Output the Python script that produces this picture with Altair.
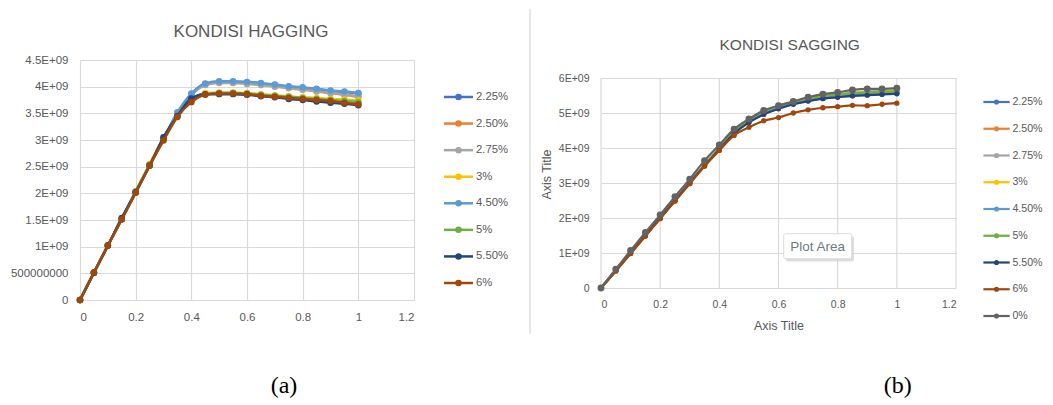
import json
import altair as alt
import pandas as pd

# ---------------- data ----------------
x_vals = [0, 0.05, 0.1, 0.15, 0.2, 0.25, 0.3, 0.35, 0.4, 0.45, 0.5,
          0.55, 0.6, 0.65, 0.7, 0.75, 0.8, 0.85, 0.9, 0.95, 1.0]

# KONDISI HAGGING (values in units of 1E+09)
hag_names = ["2.25%", "2.50%", "2.75%", "3%", "4.50%", "5%", "5.50%", "6%"]
hag_colors = ["#4472C4", "#ED7D31", "#A5A5A5", "#FFC000", "#5B9BD5", "#70AD47", "#264478", "#9E480E"]
h_225 = [0, 0.51, 1.02, 1.52, 2.02, 2.52, 3.02, 3.50, 3.85, 4.05, 4.09, 4.09, 4.08, 4.06, 4.03, 4.00, 3.97, 3.95, 3.92, 3.90, 3.87]
h_250 = [0, 0.51, 1.02, 1.52, 2.02, 2.53, 3.03, 3.50, 3.84, 4.04, 4.08, 4.08, 4.06, 4.04, 4.01, 3.98, 3.95, 3.92, 3.88, 3.85, 3.81]
h_275 = [0, 0.51, 1.02, 1.52, 2.02, 2.52, 3.02, 3.49, 3.84, 4.03, 4.07, 4.07, 4.05, 4.03, 4.00, 3.97, 3.94, 3.91, 3.88, 3.85, 3.82]
h_3 = [0, 0.51, 1.02, 1.52, 2.03, 2.55, 3.04, 3.46, 3.74, 3.88, 3.89, 3.89, 3.88, 3.86, 3.84, 3.82, 3.80, 3.79, 3.77, 3.76, 3.74]
h_450 = [0, 0.51, 1.02, 1.52, 2.02, 2.52, 3.02, 3.52, 3.87, 4.06, 4.10, 4.10, 4.09, 4.07, 4.04, 4.01, 3.99, 3.96, 3.93, 3.91, 3.88]
h_5 = [0, 0.51, 1.02, 1.52, 2.04, 2.53, 3.03, 3.45, 3.73, 3.86, 3.88, 3.88, 3.87, 3.85, 3.83, 3.81, 3.79, 3.77, 3.75, 3.73, 3.71]
h_550 = [0, 0.51, 1.02, 1.54, 2.02, 2.52, 3.05, 3.45, 3.78, 3.86, 3.86, 3.86, 3.85, 3.82, 3.80, 3.77, 3.75, 3.72, 3.70, 3.68, 3.65]
h_6 = [0, 0.52, 1.02, 1.51, 2.01, 2.52, 2.99, 3.43, 3.71, 3.85, 3.87, 3.87, 3.86, 3.83, 3.81, 3.79, 3.77, 3.75, 3.73, 3.70, 3.67]
hag_values = [h_225, h_250, h_275, h_3, h_450, h_5, h_550, h_6]

# KONDISI SAGGING (values in units of 1E+09)
sag_names = ["2.25%", "2.50%", "2.75%", "3%", "4.50%", "5%", "5.50%", "6%", "0%"]
sag_colors = ["#4472C4", "#ED7D31", "#A5A5A5", "#FFC000", "#5B9BD5", "#70AD47", "#264478", "#9E480E", "#636363"]
s_225 = [0, 0.50, 1.00, 1.50, 2.00, 2.50, 3.00, 3.50, 3.97, 4.42, 4.74, 4.97, 5.13, 5.26, 5.35, 5.42, 5.46, 5.49, 5.52, 5.54, 5.56]
s_250 = [0, 0.50, 1.00, 1.50, 2.00, 2.51, 3.01, 3.51, 3.99, 4.46, 4.78, 5.01, 5.17, 5.29, 5.39, 5.47, 5.52, 5.56, 5.59, 5.61, 5.63]
s_275 = [0, 0.50, 1.01, 1.51, 2.01, 2.52, 3.02, 3.52, 4.00, 4.48, 4.80, 5.03, 5.19, 5.31, 5.41, 5.49, 5.54, 5.58, 5.61, 5.63, 5.65]
s_3 = [0, 0.50, 1.00, 1.50, 2.01, 2.51, 3.01, 3.51, 3.99, 4.47, 4.79, 5.02, 5.18, 5.30, 5.40, 5.48, 5.53, 5.57, 5.60, 5.62, 5.64]
s_450 = [0, 0.50, 1.00, 1.50, 2.00, 2.50, 3.00, 3.50, 3.98, 4.44, 4.76, 4.99, 5.15, 5.28, 5.37, 5.44, 5.49, 5.52, 5.55, 5.57, 5.59]
s_5 = [0, 0.50, 1.00, 1.50, 2.00, 2.51, 3.01, 3.51, 4.00, 4.48, 4.81, 5.04, 5.19, 5.31, 5.40, 5.48, 5.52, 5.56, 5.59, 5.61, 5.62]
s_550 = [0, 0.50, 1.00, 1.50, 2.00, 2.50, 3.00, 3.49, 3.96, 4.41, 4.73, 4.96, 5.12, 5.25, 5.34, 5.41, 5.45, 5.49, 5.51, 5.53, 5.55]
s_6 = [0, 0.48, 0.98, 1.48, 1.98, 2.48, 2.98, 3.48, 3.93, 4.36, 4.59, 4.78, 4.87, 5.00, 5.09, 5.15, 5.18, 5.22, 5.21, 5.25, 5.28]
s_0 = [0, 0.54, 1.07, 1.59, 2.09, 2.61, 3.11, 3.64, 4.09, 4.54, 4.83, 5.07, 5.21, 5.33, 5.45, 5.54, 5.59, 5.66, 5.69, 5.69, 5.71]
sag_values = [s_225, s_250, s_275, s_3, s_450, s_5, s_550, s_6, s_0]

x_ticks = [0, 0.2, 0.4, 0.6, 0.8, 1.0, 1.2]
x_tick_labels = ["0", "0.2", "0.4", "0.6", "0.8", "1", "1.2"]
hag_y_ticks = [0, 0.5, 1, 1.5, 2, 2.5, 3, 3.5, 4, 4.5]
hag_y_labels = ["0", "500000000", "1E+09", "1.5E+09", "2E+09", "2.5E+09", "3E+09", "3.5E+09", "4E+09", "4.5E+09"]
sag_y_ticks = [0, 1, 2, 3, 4, 5, 6]
sag_y_labels = ["0", "1E+09", "2E+09", "3E+09", "4E+09", "5E+09", "6E+09"]

FONT = "Liberation Sans"
GRID = "#d9d9d9"
TXT = "#595959"
one = pd.DataFrame({"k": [0]})


def long_df(names, values):
    rows = []
    for n, vals in zip(names, values):
        for xv, yv in zip(x_vals, vals):
            rows.append({"series": n, "x": xv, "y": yv})
    return pd.DataFrame(rows)


def label_expr(labels, ticks):
    step = ticks[1] - ticks[0]
    return f"{json.dumps(labels)}[round(datum.value / {step})]"


def data_part(names, values, colors, sizes, lw, ydom_max, yticks, ylabels, lab_size,
              xtitle=None, ytitle=None, manual_xgrid=False):
    df = long_df(names, values)
    xaxis = alt.Axis(values=x_ticks, labelExpr=label_expr(x_tick_labels, x_ticks),
                     grid=not manual_xgrid, gridColor=GRID, gridWidth=1.2, domain=False, ticks=False,
                     tickSize=0, labelPadding=11, labelFont=FONT, labelFontSize=lab_size,
                     labelColor=TXT, title=xtitle, titleFont=FONT, titleFontSize=12.5,
                     titleFontWeight="normal", titleColor=TXT, titlePadding=10)
    yaxis = alt.Axis(values=yticks, labelExpr=label_expr(ylabels, yticks),
                     grid=True, gridColor=GRID, gridWidth=1.2, domain=False, ticks=False,
                     tickSize=0, labelPadding=12, labelFont=FONT, labelFontSize=lab_size,
                     labelColor=TXT, title=ytitle, titleFont=FONT, titleFontSize=12.5,
                     titleFontWeight="normal", titleColor=TXT, titlePadding=5)
    xenc = alt.X("x:Q", scale=alt.Scale(domain=[0, 1.2], nice=False, zero=False), axis=xaxis)
    yenc = alt.Y("y:Q", scale=alt.Scale(domain=[0, ydom_max], nice=False), axis=yaxis)
    layers = []
    if manual_xgrid:
        gdf = pd.DataFrame({"x": x_ticks, "y": [yticks[0]] * len(x_ticks),
                            "y2": [yticks[-1]] * len(x_ticks)})
        layers.append(alt.Chart(gdf).mark_rule(color=GRID, strokeWidth=1.2)
                      .encode(x=xenc, y=yenc, y2="y2:Q"))
    for n, c, s in zip(names, colors, sizes):
        base = alt.Chart(df).transform_filter(alt.datum.series == n)
        layers.append(base.mark_line(strokeWidth=lw, interpolate="monotone", color=c)
                      .encode(x=xenc, y=yenc))
        layers.append(base.mark_circle(size=s, color=c, opacity=1).encode(x=xenc, y=yenc))
    return alt.layer(*layers)


def legend_part(names, colors, y_range, x0, x1, xm, xt, lab_size, msize, lw):
    df = pd.DataFrame({"series": names, "row": list(range(len(names)))})
    y = alt.Y("row:Q", scale=alt.Scale(domain=[0, len(names) - 1], range=y_range, zero=False, nice=False), axis=None)
    col = alt.Color("series:N", scale=alt.Scale(domain=names, range=colors), legend=None)
    base = alt.Chart(df)
    rule = base.mark_rule(strokeWidth=lw).encode(x=alt.value(x0), x2=alt.value(x1), y=y, color=col)
    pts = base.mark_circle(size=msize, opacity=1).encode(x=alt.value(xm), y=y, color=col)
    txt = base.mark_text(align="left", baseline="middle", font=FONT, fontSize=lab_size,
                         color=TXT).encode(x=alt.value(xt), y=y, text="series:N")
    return alt.layer(rule, pts, txt)


def text_mark(txt, x, y, size, font=FONT, color=TXT, baseline="middle"):
    return alt.Chart(one).mark_text(align="center", baseline=baseline, font=font,
                                    fontSize=size, color=color).encode(
        x=alt.value(x), y=alt.value(y), text=alt.value(txt))


def vrule(x, y1, y2, color):
    return alt.Chart(one).mark_rule(color=color, strokeWidth=1).encode(
        x=alt.value(x), y=alt.value(y1), y2=alt.value(y2))


# ---------------- panel (a) ----------------
dataA = data_part(hag_names, hag_values, hag_colors, [42] * 8, 2.5, 4.5,
                  hag_y_ticks, hag_y_labels, 11.5)
legA = legend_part(hag_names, hag_colors, [37, 223], 364, 393, 378.5, 396, 11.3, 42, 2.5)
panelA = alt.layer(
    dataA, legA,
    text_mark("KONDISI HAGGING", 171, -28, 17),
    vrule(450, -51, 274, "#cfcfcf"),
    vrule(-71, -51, -50, "#ffffff"),
    text_mark("(a)", 204, 333, 24, font="Liberation Serif", color="#000000", baseline="alphabetic"),
).resolve_scale(y="independent", color="independent").properties(width=334, height=240)

# ---------------- panel (b) ----------------
# plot area of (b) starts 18px lower than (a): the view is taller and the
# 6E+09 line sits below its top edge
B_H = 228
B_YMAX = 6 * B_H / 210.0
dataB = data_part(sag_names, sag_values, sag_colors, [28] * 8 + [48], 2.2, B_YMAX,
                  sag_y_ticks, sag_y_labels, 10.5, xtitle="Axis Title", ytitle="Axis Title",
                  manual_xgrid=True)
legB = legend_part(sag_names, sag_colors, [42, 256], 382.4, 408.7, 395.5, 411.4, 10.6, 26, 2.2)

shadow = alt.Chart(one).mark_rect(color="#d4d4d4", opacity=0.8, cornerRadius=2).encode(
    x=alt.value(185), x2=alt.value(253), y=alt.value(176.5), y2=alt.value(201.5))
box = alt.Chart(one).mark_rect(fill="#ffffff", stroke="#dadada", strokeWidth=1, cornerRadius=2).encode(
    x=alt.value(182.7), x2=alt.value(250.7), y=alt.value(173.7), y2=alt.value(198.7))

panelB = alt.layer(
    dataB, legB,
    shadow, box,
    text_mark("Plot Area", 216.7, 186.5, 13.5, color="#6f7a86"),
    text_mark("KONDISI SAGGING", 188.7, -15, 15.5),
    vrule(-69.3, -51, -50, "#ffffff"),
    text_mark("(b)", 296.7, 333, 24, font="Liberation Serif", color="#000000", baseline="alphabetic"),
).resolve_scale(y="independent", color="independent").properties(width=355, height=B_H)

chart = alt.hconcat(panelA, panelB, spacing=0).properties(
    padding=0, background="#ffffff"
).configure_view(stroke=None)

chart.save("out.html", embed_options={"renderer": "svg", "actions": False})
